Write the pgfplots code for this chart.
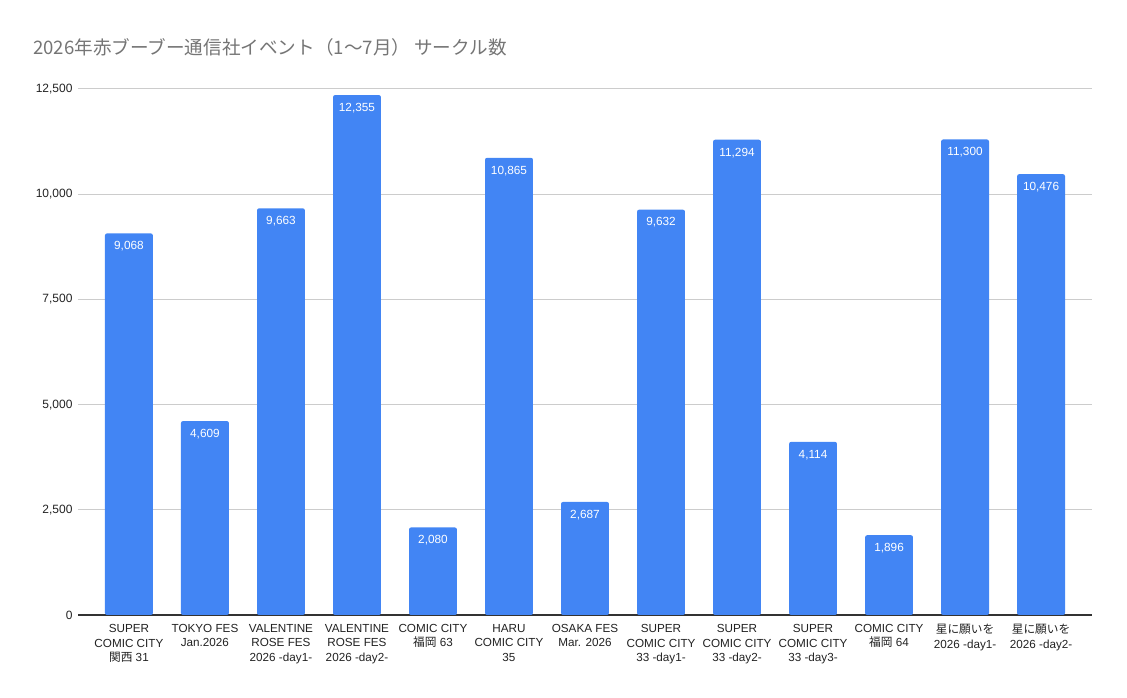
\documentclass[border=0pt]{standalone}
\usepackage{fontspec}
\setmainfont{Liberation Sans}
\newfontfamily\cjk{Noto Sans CJK JP}
\usepackage{pgfplots}
\pgfplotsset{compat=1.18}
\definecolor{barblue}{HTML}{4285F4}
\definecolor{titlegray}{HTML}{757575}
\definecolor{labelblack}{HTML}{222222}
\definecolor{gridgray}{HTML}{CCCCCC}
\definecolor{axisdark}{HTML}{333333}
\pgfplotstableread{
x y
0 9068
1 4609
2 9663
3 12355
4 2080
5 10865
6 2687
7 9632
8 11294
9 4114
10 1896
11 11300
12 10476
}\datatable
\begin{document}
\begin{tikzpicture}
\useasboundingbox (0,0) rectangle (1127pt,698pt);
\node[anchor=base west, inner sep=0pt, text=titlegray, font=\cjk\fontsize{18.6}{21}\selectfont] at (33pt,643pt) {2026年赤ブーブー通信社イベント（1～7月） サークル数};
\begin{axis}[
  at={(78pt,83pt)}, anchor=south west,
  scale only axis, width=1014pt, height=526pt,
  ybar, bar width=0.63,
  xmin=-0.67, xmax=12.67, ymin=0, ymax=12500,
  enlargelimits=false,
  axis line style={draw=none},
  major tick length=0pt,
  ytick={0,2500,5000,7500,10000,12500},
  scaled y ticks=false,
  ymajorgrids, grid style={draw=gridgray, line width=1pt},
  extra y ticks={0}, extra y tick labels={},
  extra y tick style={grid style={draw=axisdark, line width=1.3pt}},
  /pgf/number format/.cd, 1000 sep={,}, assume math mode=true, fixed, precision=0,
  /pgfplots/.cd,
  yticklabel style={font=\fontsize{12}{14}\selectfont, text=labelblack, xshift=-2pt},
  xtick={0,...,12},
  xticklabels={
    {SUPER\\COMIC CITY\\{\cjk 関西} 31},
    {TOKYO FES\\Jan.2026},
    {VALENTINE\\ROSE FES\\2026 -day1-},
    {VALENTINE\\ROSE FES\\2026 -day2-},
    {COMIC CITY\\{\cjk 福岡} 63},
    {HARU\\COMIC CITY\\35},
    {OSAKA FES\\Mar. 2026},
    {SUPER\\COMIC CITY\\33 -day1-},
    {SUPER\\COMIC CITY\\33 -day2-},
    {SUPER\\COMIC CITY\\33 -day3-},
    {COMIC CITY\\{\cjk 福岡} 64},
    {{\cjk 星に願いを}\\2026 -day1-},
    {{\cjk 星に願いを}\\2026 -day2-}
  },
  xticklabel style={font=\fontsize{11.7}{14.3}\selectfont, text=labelblack, align=center, yshift=-6pt},
  nodes near coords,
  nodes near coords style={anchor=north, yshift=-4.5pt, text=white, font=\fontsize{11.8}{13}\selectfont},
]
\addplot[fill=barblue, draw=none, rounded corners=2pt] table[x=x,y=y] {\datatable};
\end{axis}
\end{tikzpicture}
\end{document}
